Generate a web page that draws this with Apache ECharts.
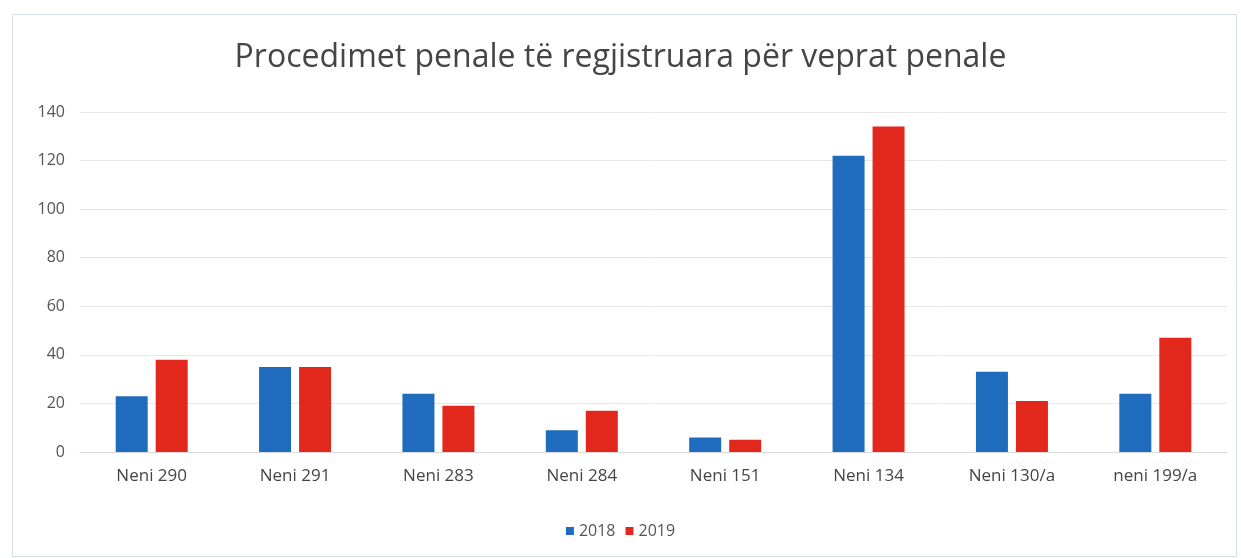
<!DOCTYPE html>
<html>
<head>
<meta charset="utf-8">
<title>Procedimet penale</title>
<script src="https://cdn.jsdelivr.net/npm/echarts@6/dist/echarts.min.js"></script>
<style>
  html, body { margin: 0; padding: 0; background: #fff; }
  #chart { width: 1241px; height: 558px; }
</style>
</head>
<body>
<div id="chart"></div>
<script>
// categories (x axis)
const categories = ['Neni 290', 'Neni 291', 'Neni 283', 'Neni 284', 'Neni 151', 'Neni 134', 'Neni 130/a', 'neni 199/a']
// values per year
const values2018 = [23, 35, 24, 9, 6, 122, 33, 24]
const values2019 = [38, 35, 19, 17, 5, 134, 21, 47]

const chart = echarts.init(document.getElementById('chart'))

chart.setOption({
  backgroundColor: '#ffffff',
  textStyle: { fontFamily: 'Open Sans' },
  graphic: [
    {
      type: 'rect',
      left: 10,
      top: 12,
      shape: { width: 1224, height: 542 },
      style: { fill: 'none', stroke: '#d6dde6', lineWidth: 1 },
      silent: true
    }
  ],
  title: {
    text: 'Procedimet penale të regjistruara për veprat penale',
    left: 'center',
    top: 37,
    textStyle: { color: '#454545', fontSize: 32, fontWeight: 'normal', fontFamily: 'Open Sans' }
  },
  legend: {
    data: ['2018', '2019'],
    bottom: 14,
    left: 'center',
    itemWidth: 8,
    itemHeight: 8,
    itemGap: 10,
    icon: 'rect',
    textStyle: { color: '#555', fontSize: 16 }
  },
  grid: {
    left: 80,
    right: 14,
    top: 112,
    bottom: 106
  },
  xAxis: {
    type: 'category',
    data: categories,
    axisTick: { show: false },
    axisLine: { lineStyle: { color: '#d9d9d9' } },
    axisLabel: { color: '#454545', fontSize: 17, margin: 16 }
  },
  yAxis: {
    type: 'value',
    min: 0,
    max: 140,
    interval: 20,
    axisLine: { show: false },
    axisTick: { show: false },
    splitLine: { lineStyle: { color: '#e6e6e6' } },
    axisLabel: { color: '#555', fontSize: 16, margin: 15 }
  },
  series: [
    {
      name: '2018',
      type: 'bar',
      data: values2018,
      barWidth: 32,
      barGap: '25%',
      itemStyle: { color: '#1f6bbd' }
    },
    {
      name: '2019',
      type: 'bar',
      data: values2019,
      barWidth: 32,
      itemStyle: { color: '#e2281d' }
    }
  ]
})
</script>
</body>
</html>
